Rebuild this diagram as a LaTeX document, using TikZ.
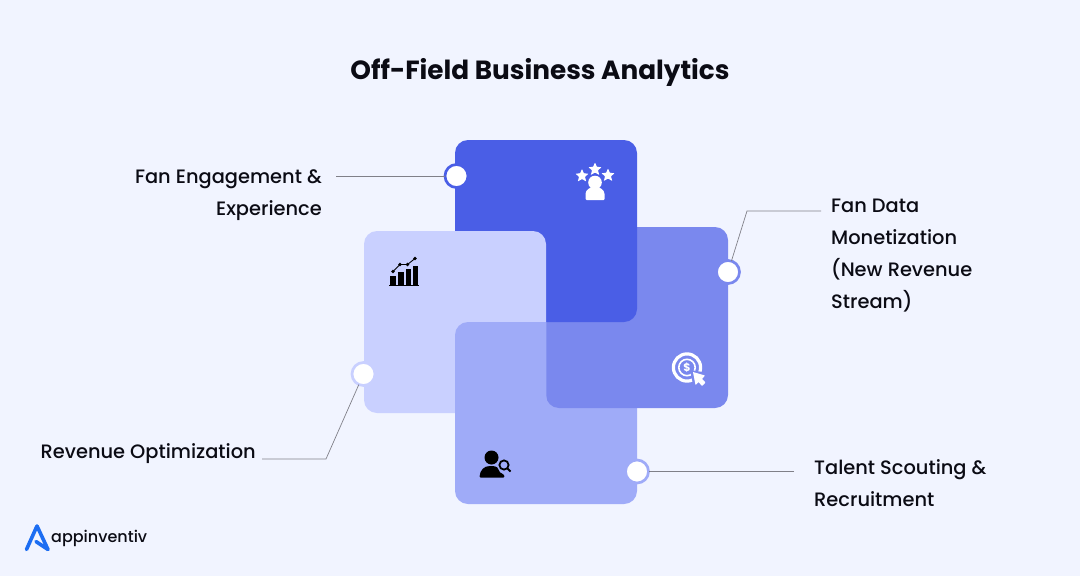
\documentclass[tikz,border=0pt]{standalone}
\usepackage{fontspec}
\setmainfont{Poppins Medium}[BoldFont={Poppins Bold}]
\definecolor{bgc}{HTML}{F1F4FF}
\definecolor{cdark}{HTML}{4A5EE6}
\definecolor{cmed}{HTML}{7A88EE}
\definecolor{clight}{HTML}{C9D0FF}
\definecolor{clav}{HTML}{9FABF8}
\definecolor{linec}{HTML}{808088}
\definecolor{logob}{HTML}{1C6DF2}
\definecolor{txt}{HTML}{0B0B14}
\tikzset{
 card/.style={minimum width=182pt,minimum height=182pt,rounded corners=13pt,inner sep=0pt,outer sep=0pt},
 dot/.style={circle,fill=white,draw=#1,line width=2.7pt,minimum size=23pt,inner sep=0pt,outer sep=0pt},
 lab/.style={font=\fontsize{19.4}{32}\selectfont,text=txt,inner sep=0pt,align=#1},
 conn/.style={draw=linec,line width=0.7pt},
}
\begin{document}
\begin{tikzpicture}[x=1pt,y=-1pt]
\useasboundingbox (0,0) rectangle (1080,576);
\fill[bgc] (0,0) rectangle (1080,576);
\node[card,fill=clav] (lav) at (546,413) {};
\node[card,fill=cmed,minimum height=181pt] (med) at (637,317.5) {};
\node[card,fill=cdark] (dark) at (546,231) {};
\node[card,fill=clight] (lig) at (455,322) {};
\begin{scope}
\clip (440,300) rectangle (546,430);
\node[card,fill=clav] (lavtop) at (546,413) {};
\end{scope}
% labels
\node[font=\fontsize{26.3}{32}\selectfont\bfseries,text=txt,inner sep=0pt] (title) at (540,72) {Off-Field Business Analytics};
\node[lab=right,anchor=north east] (l1) at (322,170) {Fan Engagement \&\\Experience};
\node[lab=left,anchor=north west] (l2) at (831,199) {Fan Data\\Monetization\\(New Revenue\\Stream)};
\node[lab=left,anchor=east] (l3) at (256,454) {Revenue Optimization};
\node[lab=left,anchor=north west] (l4) at (814,459) {Talent Scouting \&\\Recruitment};
% dots
\node[dot=cdark] (d1) at (456.5,176) {};
\node[dot=cmed] (d2) at (728,272) {};
\node[dot=clight] (d3) at (363.5,374) {};
\node[dot=clav] (d4) at (637,471.5) {};
% connectors
\coordinate (c1) at (336,176);
\coordinate (c2) at (821,211);
\coordinate (c2b) at (747,211);
\coordinate (c3) at (262,459);
\coordinate (c3b) at (326,459);
\coordinate (c4) at (794,471.5);
\draw[conn] (c1) -- (d1);
\draw[conn] (c2) -- (c2b) -- (d2);
\draw[conn] (c3) -- (c3b) -- (d3);
\draw[conn] (c4) -- (d4);
% star person icon
\def\starat#1#2{\fill[white,rounded corners=0.5pt] (#1,#2-6.5)
 -- ++(1.9,4.3) -- ++(4.6,0.4) -- ++(-3.5,3.1) -- ++(1.2,4.7) -- ++(-4.2,-2.5) -- ++(-4.2,2.5) -- ++(1.2,-4.7) -- ++(-3.5,-3.1) -- ++(4.6,-0.4) -- cycle;}
\starat{582}{175.5}\starat{595}{169}\starat{608}{175}
\fill[white] (595,182.5) circle (6.8);
\fill[white,rounded corners=1pt] (585.5,200) -- (585.5,195) .. controls (585.5,190) and (590,187) .. (595,187) .. controls (600,187) and (604.5,190) .. (604.5,195) -- (604.5,200) -- cycle;
% chart icon
\fill[black] (390,276) rectangle (395.5,285);
\fill[black] (398,272) rectangle (403.5,285);
\fill[black] (405.5,268.5) rectangle (411,285);
\fill[black] (412.5,265.5) rectangle (418,285);
\draw[black,line width=1pt] (389,285) -- (419,285);
\draw[black,line width=0.9pt] (393,271.5) -- (400,264.5) -- (407.5,264.5) -- (415,258.5);
\foreach \p in {(393,271.5),(400,264.5),(407.5,264.5),(415,258.5)} \fill[black] \p circle (1.8);
% money icon
\draw[white,line width=3.2pt] (687,367.5) circle (13.6);
\draw[white,line width=1.6pt] (687,367.5) circle (8.2);
\node[font=\fontsize{11}{11}\selectfont\bfseries,text=white,inner sep=0pt] (dollar) at (687,367.5) {\$};
\fill[cmed] (690,370) -- (709,373) -- (708,388) -- (694,389) -- cycle;
\fill[white,rounded corners=0.4pt] (693,372) -- (705,375.5) -- (702,379) -- (705.5,382.5) -- (702,386) -- (698.5,382) -- (695.5,385) -- cycle;
% person search icon
\fill[black] (491.5,457.5) circle (7);
\fill[black,rounded corners=1pt] (479.5,477.5) .. controls (480,470) and (484,466) .. (491,466) .. controls (494,466) and (496,466.5) .. (498,468) .. controls (498.5,471.5) and (501,473.5) .. (504,474.5) -- (504.5,477.5) -- cycle;
\draw[black,line width=1.8pt] (504,465) circle (4.6);
\draw[black,line width=2pt] (507.5,468.5) -- (510.5,471.5);
% logo
\draw[logob,line width=3.6pt,line join=round,line cap=round] (26.5,549.5) -- (37,526) -- (48,549.5) -- (36,541.5);
\node[font=\fontsize{16}{20}\selectfont,text=txt,inner sep=0pt,anchor=base west] (logo) at (51,542.5) {appinventiv};
\end{tikzpicture}
\end{document}
